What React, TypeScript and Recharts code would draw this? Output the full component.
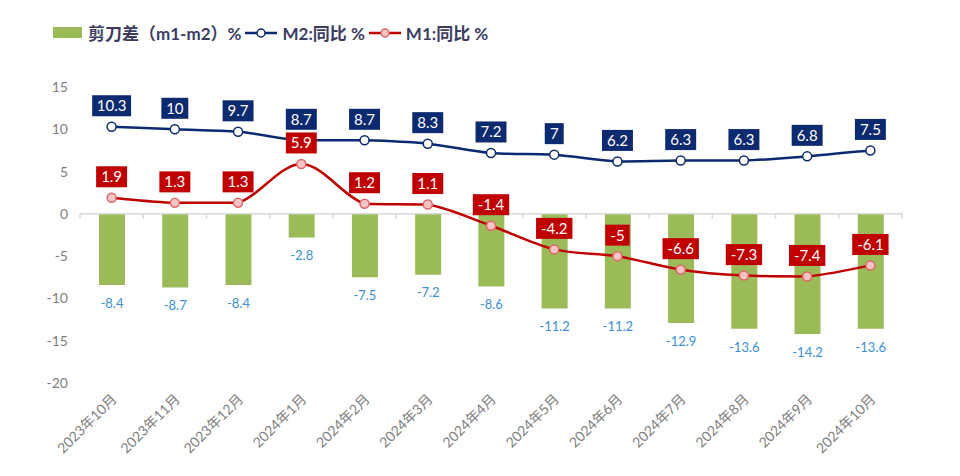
import React from "react";
import {
  ComposedChart,
  Bar,
  Line,
  XAxis,
  YAxis,
  LabelList,
  ReferenceLine,
} from "recharts";

const months = [
  "2023年10月",
  "2023年11月",
  "2023年12月",
  "2024年1月",
  "2024年2月",
  "2024年3月",
  "2024年4月",
  "2024年5月",
  "2024年6月",
  "2024年7月",
  "2024年8月",
  "2024年9月",
  "2024年10月",
];
const gapValues = [-8.4, -8.7, -8.4, -2.8, -7.5, -7.2, -8.6, -11.2, -11.2, -12.9, -13.6, -14.2, -13.6];
const m2Values = [10.3, 10, 9.7, 8.7, 8.7, 8.3, 7.2, 7, 6.2, 6.3, 6.3, 6.8, 7.5];
const m1Values = [1.9, 1.3, 1.3, 5.9, 1.2, 1.1, -1.4, -4.2, -5, -6.6, -7.3, -7.4, -6.1];
const yTicks = [-20, -15, -10, -5, 0, 5, 10, 15];

const data = months.map((name, i) => ({
  name,
  gap: gapValues[i],
  m2: m2Values[i],
  m1: m1Values[i],
}));

const GREEN = "#9bbb59";
const NAVY = "#0b2a6f";
const RED = "#c00000";
const GREY = "#808080";
const FONT = "Lato, 'Noto Sans CJK SC', sans-serif";

const clamp = (v: number, a: number, b: number) => Math.min(Math.max(v, Math.min(a, b)), Math.max(a, b));

// smoothed line like Excel, control points kept inside each segment's y range
const smoothCurve = (ctx: any) => {
  let pts: [number, number][] = [];
  return {
    areaStart() {},
    areaEnd() {},
    lineStart() {
      pts = [];
    },
    point(x: number, y: number) {
      pts.push([+x, +y]);
    },
    lineEnd() {
      if (!pts.length) return;
      ctx.moveTo(pts[0][0], pts[0][1]);
      for (let i = 0; i < pts.length - 1; i++) {
        const p0 = pts[Math.max(i - 1, 0)];
        const p1 = pts[i];
        const p2 = pts[i + 1];
        const p3 = pts[Math.min(i + 2, pts.length - 1)];
        ctx.bezierCurveTo(
          p1[0] + (p2[0] - p0[0]) / 6,
          clamp(p1[1] + (p2[1] - p0[1]) / 6, p1[1], p2[1]),
          p2[0] - (p3[0] - p1[0]) / 6,
          clamp(p2[1] - (p3[1] - p1[1]) / 6, p1[1], p2[1]),
          p2[0],
          p2[1]
        );
      }
    },
  };
};

// rough text width for label boxes
const textWidth = (s: string, size: number) =>
  s.split("").reduce((w, c) => w + (c === "." ? 0.27 : c === "-" ? 0.36 : 0.53) * size, 0);

const boxLabel = (fill: string) => (props: any) => {
  const { x, y, value } = props;
  const s = String(value);
  const w = textWidth(s, 15) + 11;
  const h = 21;
  const cy = y - 21;
  return (
    <g>
      <rect x={x - w / 2} y={cy - h / 2} width={w} height={h} fill={fill} />
      <text
        x={x}
        y={cy}
        dy="0.36em"
        textAnchor="middle"
        fill="#ffffff"
        fontSize={15}
        fontFamily={FONT}
      >
        {s}
      </text>
    </g>
  );
};

const barLabel = (props: any) => {
  const { x, y, width, height, value } = props;
  const bottom = Math.max(y, y + height);
  return (
    <text
      x={x + width / 2}
      y={bottom + 18}
      dy="0.36em"
      textAnchor="middle"
      fill="#3c8fd8"
      fontSize={13}
      fontFamily={FONT}
    >
      {value}
    </text>
  );
};

const XTick = (props: any) => {
  const { x, payload } = props;
  const ax = x + 6;
  const ay = 400;
  return (
    <text
      x={ax}
      y={ay}
      transform={`rotate(-45, ${ax}, ${ay})`}
      textAnchor="end"
      fill={GREY}
      fontSize={14}
      fontFamily={FONT}
    >
      {payload.value}
    </text>
  );
};

const ZeroLine = (props: any) => {
  const { x1, y1, x2 } = props;
  const n = months.length;
  const step = (x2 - x1) / n;
  return (
    <g>
      <line x1={x1} y1={y1} x2={x2} y2={y1} stroke="#d9d9d9" strokeWidth={1.5} />
      {Array.from({ length: n + 1 }, (_, i) => (
        <line
          key={i}
          x1={x1 + step * i}
          y1={y1}
          x2={x1 + step * i}
          y2={y1 + 5}
          stroke="#d9d9d9"
          strokeWidth={1.5}
        />
      ))}
    </g>
  );
};

const legendItem = { display: "flex", alignItems: "center", marginRight: 4 } as const;

function LineMark({ color, fill, ring }: { color: string; fill: string; ring: string }) {
  return (
    <svg width={32} height={12} style={{ marginRight: 5 }}>
      <line x1={0} y1={6} x2={32} y2={6} stroke={color} strokeWidth={2.5} />
      <circle cx={16} cy={6} r={4} fill={fill} stroke={ring} strokeWidth={1.5} />
    </svg>
  );
}

export default function App() {
  return (
    <div
      style={{
        position: "absolute",
        left: 0,
        top: 0,
        width: 960,
        height: 476,
        background: "#ffffff",
        fontFamily: FONT,
      }}
    >
      <div
        style={{
          position: "absolute",
          left: 53,
          top: 20,
          display: "flex",
          alignItems: "center",
          fontSize: 17,
          fontWeight: 700,
          color: "#3d3d62",
          whiteSpace: "nowrap",
        }}
      >
        <div style={legendItem}>
          <div style={{ width: 29, height: 11, background: GREEN, marginRight: 6 }} />
          <span>剪刀差（m1-m2）%</span>
        </div>
        <div style={legendItem}>
          <LineMark color={NAVY} fill="#ffffff" ring={NAVY} />
          <span>M2:同比 %</span>
        </div>
        <div style={legendItem}>
          <LineMark color={RED} fill="#f6c4c4" ring="#e06666" />
          <span>M1:同比 %</span>
        </div>
      </div>
      <ComposedChart
        width={960}
        height={476}
        data={data}
        margin={{ top: 87, right: 58, bottom: 0, left: 0 }}
      >
        <XAxis
          dataKey="name"
          axisLine={false}
          tickLine={false}
          height={93}
          interval={0}
          tick={<XTick />}
        />
        <YAxis
          width={80}
          domain={[-20, 15]}
          ticks={yTicks}
          axisLine={false}
          tickLine={false}
          interval={0}
          tick={{ fill: GREY, fontSize: 14, fontFamily: FONT }}
          tickMargin={6}
        />
        <ReferenceLine y={0} shape={<ZeroLine />} ifOverflow="extendDomain" />
        <Bar dataKey="gap" fill={GREEN} barSize={26} isAnimationActive={false}>
          <LabelList dataKey="gap" content={barLabel} />
        </Bar>
        <Line
          type={smoothCurve as any}
          dataKey="m2"
          stroke={NAVY}
          strokeWidth={2.5}
          dot={{ r: 4.5, fill: "#ffffff", stroke: NAVY, strokeWidth: 1.5 }}
          isAnimationActive={false}
        >
          <LabelList dataKey="m2" content={boxLabel(NAVY)} />
        </Line>
        <Line
          type={smoothCurve as any}
          dataKey="m1"
          stroke={RED}
          strokeWidth={2.5}
          dot={{ r: 4.5, fill: "#f6c4c4", stroke: "#e06666", strokeWidth: 1.5 }}
          isAnimationActive={false}
        >
          <LabelList dataKey="m1" content={boxLabel(RED)} />
        </Line>
      </ComposedChart>
    </div>
  );
}
